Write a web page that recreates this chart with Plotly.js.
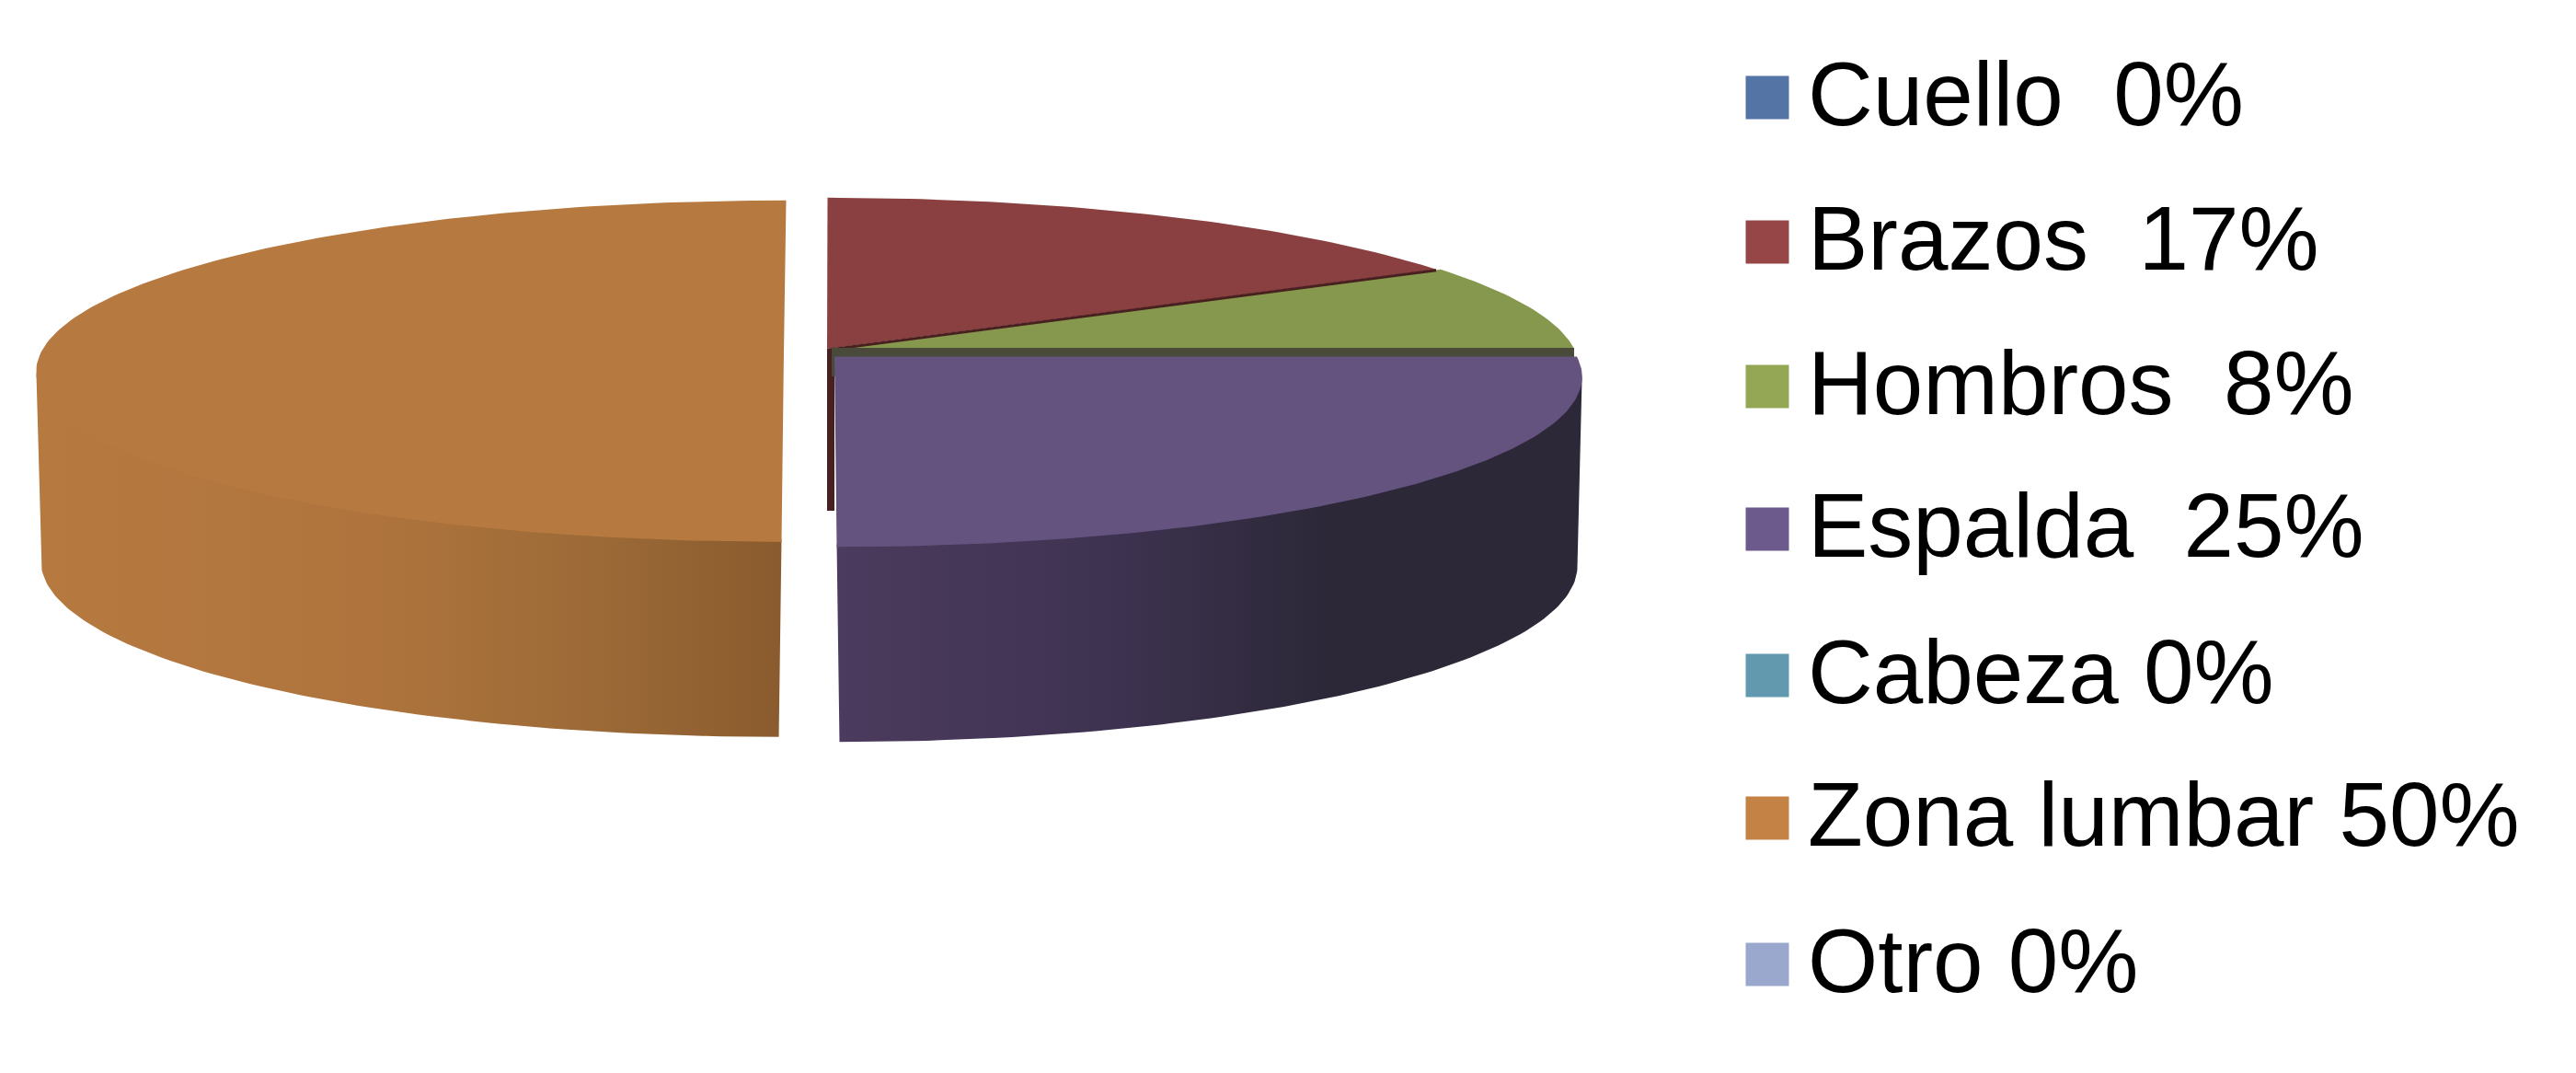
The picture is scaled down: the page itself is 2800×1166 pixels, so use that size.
<!DOCTYPE html>
<html><head><meta charset="utf-8">
<script src="https://cdn.plot.ly/plotly-3.0.1.min.js"></script>
<style>html,body{margin:0;padding:0;background:#fff}</style></head>
<body><div id="chart" style="width:2800px;height:1166px"></div>
<script>
// Data
const categories = ['Cuello','Brazos','Hombros','Espalda','Cabeza','Zona lumbar','Otro'];
const values = [0,16.7,8.3,25,0,50,0];
const legendLabels = ['Cuello\u00a0\u00a00%','Brazos\u00a0\u00a017%','Hombros\u00a0\u00a08%','Espalda\u00a0\u00a025%','Cabeza 0%','Zona lumbar 50%','Otro 0%'];
const swatchColors = ['#5574A6','#964646','#94A755','#6B5A8B','#6299AE','#C48345','#99A8CC'];
const topColors = ['#5574A6','#8A4040','#86984D','#64537F','#6299AE','#B6793F','#99A8CC'];

// Projection of the tilted disc onto the x/y axes (axes span the page in pixels)
const RX = 807, RY = 183, PERSP = 0.115, DEPTH = 205;
const centres = {1:[899,379,0.5],2:[904,379,0],3:[907,387.5,-2.5],5:[852,382,2.5]};
const SIL = Math.acos(-PERSP)*180/Math.PI;   // angle where the disc outline is widest
function pt(i, deg, bottom){
  const c = centres[i], t = deg*Math.PI/180, u = Math.sin(t), v = Math.cos(t), s = 1/(1+PERSP*v);
  let X = c[0] + RX*u*s + c[2]*v, Y = c[1] - RY*v*s;
  if(bottom){ X = c[0] + (X-c[0])*0.99 + c[2]*(-1.2); Y += DEPTH - 7*v; }
  return [X,Y];
}
function arc(i,a,b,bottom){
  const out=[]; const n=Math.max(2,Math.round(Math.abs(b-a)));
  for(let k=0;k<=n;k++) out.push(pt(i,a+(b-a)*k/n,bottom));
  return out;
}
function poly(points,color,grad){
  const tr={type:'scatter',mode:'lines',x:points.map(p=>p[0]),y:points.map(p=>p[1]),fill:'toself',
    line:{width:0,color:color},fillcolor:color,hoverinfo:'skip',showlegend:false};
  if(grad) tr.fillgradient={type:'horizontal',colorscale:grad};
  return tr;
}
// Cumulative angles
const starts=[],ends=[]; let cum=0;
values.forEach(v=>{starts.push(cum*3.6);cum+=v;ends.push(cum*3.6);});
function face(i){return poly([centres[i].slice(0,2)].concat(arc(i,starts[i],ends[i],false)),topColors[i]);}
// Visible part of the outer wall: only the arc in front of the widest point.
// Its upper edge tucks 3 units under the top face so no seam shows.
function wall(i,a,b,grad){
  const upper=arc(i,a,b,false).map(p=>[p[0],p[1]-3]);
  return poly(upper.concat(arc(i,b,a,true)),topColors[i],grad);
}

const traces=[];
// Brazos inner face sliver and top
const rc=centres[1];
traces.push(poly([[rc[0],rc[1]],[rc[0]+8,rc[1]],[rc[0]+8,rc[1]+176],[rc[0],rc[1]+176]],'#47201F'));
traces.push(face(1));
traces.push(face(2));
// dark cut between Brazos and Hombros
const tip=pt(1,ends[1],false);
traces.push({type:'scatter',mode:'lines',x:[rc[0]+2,tip[0]],y:[rc[1]+1,tip[1]+1],line:{color:'#47201F',width:3},hoverinfo:'skip',showlegend:false});
// Hombros front face seen above Espalda
const gc=centres[2], ge=pt(2,ends[2],false);
traces.push(poly([[gc[0],gc[1]-1],[ge[0],ge[1]-1],[ge[0],ge[1]+30],[gc[0],gc[1]+30]],'#4A4A3A'));
// Espalda wall and top
traces.push(wall(3,SIL,ends[3],[[0,'#4B3B5E'],[0.35,'#3F3352'],[0.66,'#2C2838'],[1,'#2C2838']]));
traces.push(face(3));
// Zona lumbar wall and top
traces.push(wall(5,starts[5],360-SIL,[[0,'#B67A40'],[0.45,'#AF743D'],[0.75,'#9C6A37'],[1,'#8A5B2E']]));
traces.push(face(5));

// Legend drawn through the axes
const rowY=[106,263,420,575,734,889,1048];
traces.push({type:'scatter',mode:'markers',x:categories.map(()=>1921),y:rowY,
  marker:{symbol:'square',size:47,color:swatchColors,line:{width:0}},hoverinfo:'skip',showlegend:false});
traces.push({type:'scatter',mode:'text',x:categories.map(()=>1965),y:rowY.map(v=>v+5),text:legendLabels,textposition:'middle right',
  textfont:{family:'"Liberation Sans",Arial,sans-serif',size:98,color:'#000'},hoverinfo:'skip',showlegend:false});

Plotly.newPlot('chart',traces,{
  width:2800,height:1166,margin:{l:0,r:0,t:0,b:0},paper_bgcolor:'#fff',plot_bgcolor:'#fff',showlegend:false,
  xaxis:{range:[0,2800],visible:false,fixedrange:true},
  yaxis:{range:[1166,0],visible:false,fixedrange:true}
},{displayModeBar:false,staticPlot:true});
</script></body></html>
